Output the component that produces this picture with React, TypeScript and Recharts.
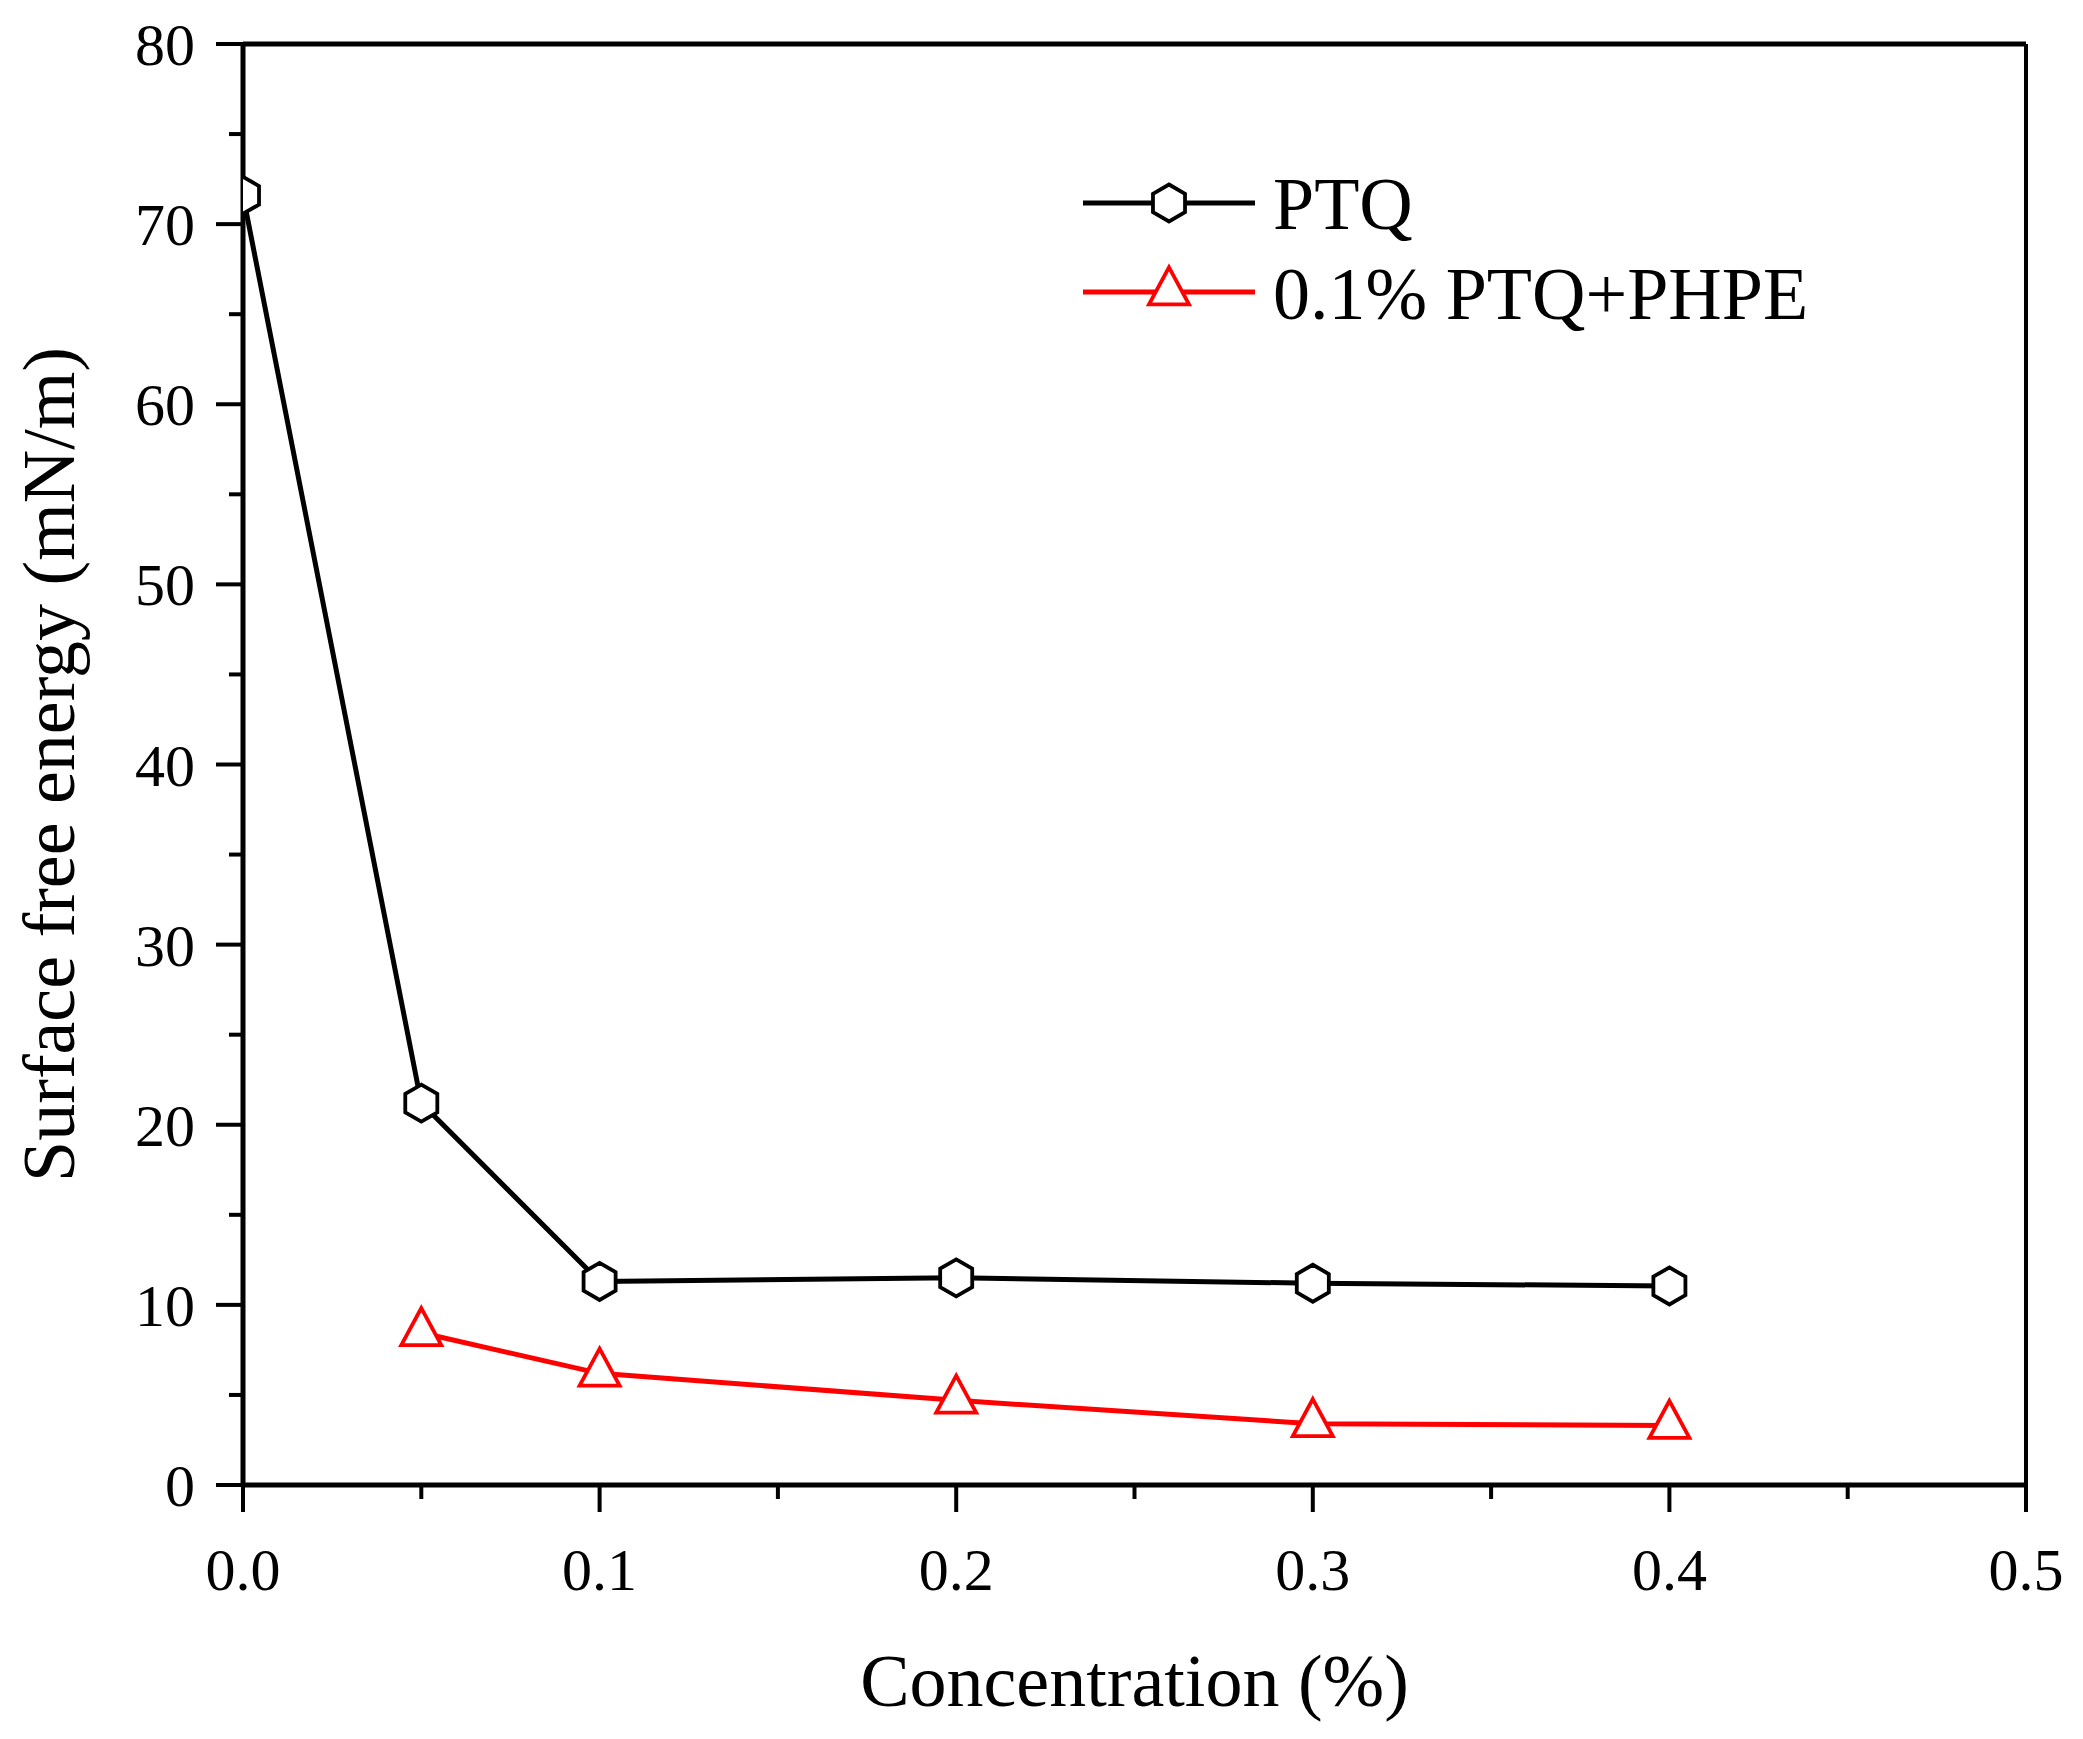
import React from "react";
import {
  LineChart,
  Line,
  XAxis,
  YAxis,
  ReferenceLine,
  Legend,
  Label,
} from "recharts";

const ptqConc = [0, 0.05, 0.1, 0.2, 0.3, 0.4];
const ptqEnergy = [71.6, 21.2, 11.3, 11.5, 11.2, 11.05];
const mixConc = [0.05, 0.1, 0.2, 0.3, 0.4];
const mixEnergy = [8.45, 6.2, 4.7, 3.4, 3.3];

const xTicks = [0, 0.05, 0.1, 0.15, 0.2, 0.25, 0.3, 0.35, 0.4, 0.45, 0.5];
const yTicks = [0, 5, 10, 15, 20, 25, 30, 35, 40, 45, 50, 55, 60, 65, 70, 75, 80];

const ptqData = ptqConc.map((x, i) => ({ x, y: ptqEnergy[i] }));
const mixData = mixConc.map((x, i) => ({ x, y: mixEnergy[i] }));

const FONT = "'Liberation Serif', 'Times New Roman', serif";

const hexPoints = (cx: number, cy: number, r: number) =>
  [-90, -30, 30, 90, 150, 210]
    .map((a) => {
      const t = (a * Math.PI) / 180;
      return `${cx + r * Math.cos(t)},${cy + r * Math.sin(t)}`;
    })
    .join(" ");

const triPoints = (cx: number, cy: number) =>
  `${cx},${cy - 24.7} ${cx + 20},${cy + 12.3} ${cx - 20},${cy + 12.3}`;

const HexDot = (props: any) => {
  const { cx, cy, index } = props;
  return (
    <polygon
      key={`hex-${index}`}
      points={hexPoints(cx, cy, 18.5)}
      fill="#fff"
      stroke="#000"
      strokeWidth={3.8}
    />
  );
};

const TriDot = (props: any) => {
  const { cx, cy, index } = props;
  return (
    <polygon
      key={`tri-${index}`}
      points={triPoints(cx, cy)}
      fill="#fff"
      stroke="#ff0000"
      strokeWidth={3.8}
    />
  );
};

const XTick = (props: any) => {
  const { x, y, payload } = props;
  const v = payload.value;
  const major = Math.abs(v * 10 - Math.round(v * 10)) < 1e-6;
  return (
    <g>
      <line x1={x} y1={y} x2={x} y2={y + (major ? 27 : 14)} stroke="#000" strokeWidth={4} />
      {major && (
        <text x={x} y={y + 105} textAnchor="middle" fontSize={60} fontFamily={FONT} fill="#000">
          {v.toFixed(1)}
        </text>
      )}
    </g>
  );
};

const YTick = (props: any) => {
  const { x, y, payload } = props;
  const v = payload.value;
  const major = v % 10 === 0;
  return (
    <g>
      <line x1={x} y1={y} x2={x - (major ? 27 : 14)} y2={y} stroke="#000" strokeWidth={4} />
      {major && (
        <text x={x - 48} y={y} dy="0.35em" textAnchor="end" fontSize={60} fontFamily={FONT} fill="#000">
          {v}
        </text>
      )}
    </g>
  );
};

const LegendBox = () => (
  <svg width={760} height={200} style={{ display: "block" }}>
    <line x1={23} y1={53} x2={195} y2={53} stroke="#000" strokeWidth={5} />
    <polygon points={hexPoints(109, 53, 18.5)} fill="#fff" stroke="#000" strokeWidth={3.8} />
    <text x={213} y={79} fontSize={74} fontFamily={FONT} fill="#000">
      PTQ
    </text>
    <line x1={23} y1={142} x2={195} y2={142} stroke="#ff0000" strokeWidth={5} />
    <polygon points={triPoints(109, 142)} fill="#fff" stroke="#ff0000" strokeWidth={3.8} />
    <text x={213} y={169} fontSize={74} fontFamily={FONT} fill="#000">
      0.1% PTQ+PHPE
    </text>
  </svg>
);

export default function App() {
  return (
    <div style={{ position: "absolute", left: 0, top: 0, background: "#fff" }}>
      <LineChart
        width={2083}
        height={1739}
        margin={{ top: 44, right: 57, bottom: 0, left: 0 }}
      >
        <XAxis
          type="number"
          dataKey="x"
          domain={[0, 0.5]}
          ticks={xTicks}
          interval={0}
          allowDataOverflow
          height={254}
          tickSize={0}
          tickMargin={0}
          tick={<XTick />}
          axisLine={{ stroke: "#000", strokeWidth: 5 }}
          tickLine={false}
        >
          <Label
            content={(p: any) => {
              const vb = p.viewBox;
              return (
                <text
                  x={vb.x + vb.width / 2}
                  y={vb.y + 221}
                  textAnchor="middle"
                  fontSize={74}
                  fontFamily={FONT}
                  fill="#000"
                >
                  Concentration (%)
                </text>
              );
            }}
          />
        </XAxis>
        <YAxis
          type="number"
          domain={[0, 80]}
          ticks={yTicks}
          interval={0}
          allowDataOverflow
          width={243}
          tickSize={0}
          tickMargin={0}
          tick={<YTick />}
          axisLine={{ stroke: "#000", strokeWidth: 5 }}
          tickLine={false}
        >
          <Label
            content={(p: any) => {
              const vb = p.viewBox;
              const cx = vb.x + 74;
              const cy = vb.y + vb.height / 2;
              return (
                <text
                  x={cx}
                  y={cy}
                  textAnchor="middle"
                  transform={`rotate(-90, ${cx}, ${cy})`}
                  fontSize={74}
                  fontFamily={FONT}
                  fill="#000"
                >
                  Surface free energy (mN/m)
                </text>
              );
            }}
          />
        </YAxis>
        <ReferenceLine y={80} stroke="#000" strokeWidth={5} />
        <ReferenceLine x={0.5} stroke="#000" strokeWidth={4} />
        <Line
          data={ptqData}
          dataKey="y"
          name="PTQ"
          type="linear"
          stroke="#000"
          strokeWidth={5}
          dot={HexDot}
          activeDot={false}
          isAnimationActive={false}
        />
        <Line
          data={mixData}
          dataKey="y"
          name="0.1% PTQ+PHPE"
          type="linear"
          stroke="#ff0000"
          strokeWidth={5}
          dot={TriDot}
          activeDot={false}
          isAnimationActive={false}
        />
        <Legend
          layout="horizontal"
          verticalAlign="middle"
          align="center"
          content={() => <LegendBox />}
          wrapperStyle={{ left: 1060, top: 150, width: 760, height: 200 }}
        />
      </LineChart>
    </div>
  );
}
